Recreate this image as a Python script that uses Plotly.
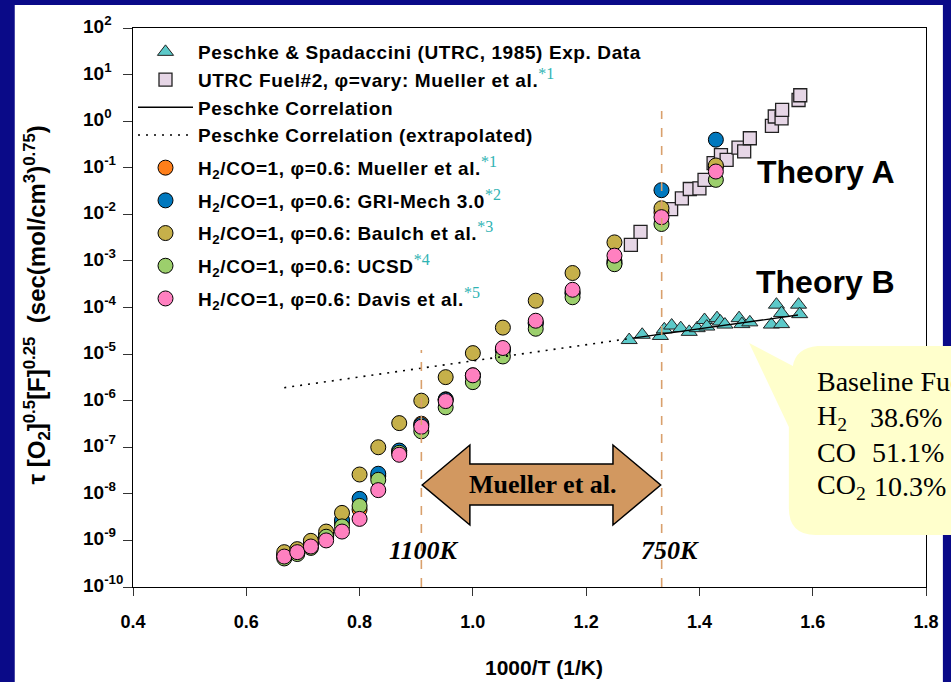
import math
import plotly.graph_objects as go

# ---------------- data ----------------
inv_T = [0.667, 0.690, 0.714, 0.741, 0.769, 0.800, 0.833, 0.870, 0.909,
         0.952, 1.000, 1.053, 1.111, 1.176, 1.250, 1.333, 1.429]
mueller = [4.8e-10, 6.2e-10, 8.3e-10, 1.3e-9, 2.4e-9, 4.6e-9, 2.4e-8, 8.3e-8, 3.2e-7,
           1.07e-6, 3.5e-6, 1.26e-5, 4.7e-5, 2.1e-4, 1.0e-3, 1.1e-2, 0.105]
gri = [4.7e-10, 6.0e-10, 7.9e-10, 1.26e-9, 2.75e-9, 7.8e-9, 2.7e-8, 8.5e-8, 3.0e-7,
       1.05e-6, 3.4e-6, 1.2e-5, 4.5e-5, 2.0e-4, 8.9e-4, 3.3e-2, 0.40]
baulch = [5.6e-10, 6.5e-10, 9.8e-10, 1.55e-9, 3.9e-9, 2.6e-8, 1.0e-7, 3.3e-7, 1.0e-6,
          3.2e-6, 1.05e-5, 3.7e-5, 1.4e-4, 5.5e-4, 2.5e-3, 1.35e-2, 0.112]
ucsd = [4.1e-10, 5.1e-10, 6.9e-10, 1.2e-9, 2.0e-9, 5.5e-9, 2.0e-8, 7.6e-8, 2.2e-7,
        7.2e-7, 2.5e-6, 8.9e-6, 3.5e-5, 1.66e-4, 8.5e-4, 6.2e-3, 5.5e-2]
davis = [4.5e-10, 5.6e-10, 7.4e-10, 1.0e-9, 1.55e-9, 2.9e-9, 1.2e-8, 6.9e-8, 2.75e-7,
         9.8e-7, 3.5e-6, 1.35e-5, 5.2e-5, 2.4e-4, 1.3e-3, 8.7e-3, 8.3e-2]

utrc_x = [1.279, 1.296, 1.350, 1.369, 1.383, 1.400, 1.409, 1.425, 1.438, 1.448,
          1.469, 1.479, 1.489, 1.528, 1.533, 1.545, 1.546, 1.575, 1.578]
utrc_y = [2.2e-3, 4.2e-3, 1.3e-2, 2.2e-2, 3.5e-2, 3.6e-2, 5.5e-2, 0.126, 0.186, 0.148,
          0.27, 0.224, 0.43, 0.79, 1.26, 1.15, 1.74, 2.85, 3.6]

exp_x = [1.276, 1.299, 1.331, 1.338, 1.351, 1.367, 1.382, 1.396, 1.409, 1.413, 1.431,
         1.437, 1.445, 1.470, 1.475, 1.489, 1.527, 1.536, 1.545, 1.545, 1.575, 1.577]
exp_y = [2.0e-5, 2.6e-5, 2.45e-5, 3.4e-5, 4.1e-5, 3.6e-5, 3.0e-5, 3.6e-5, 5.4e-5, 3.9e-5,
         5.9e-5, 5.0e-5, 4.3e-5, 5.9e-5, 4.4e-5, 4.8e-5, 4.3e-5, 1.15e-4, 7.6e-5, 4.4e-5,
         1.15e-4, 7.2e-5]

corr_x = [1.282, 1.574]
corr_y = [2.2e-5, 6.9e-5]
extrap_x = [0.667, 1.282]
extrap_y = [1.9e-6, 2.2e-5]

marker_temps_K = [1100, 750]

x_tickvals = [0.4, 0.6, 0.8, 1.0, 1.2, 1.4, 1.6, 1.8]
x_ticktext = ["0.4", "0.6", "0.8", "1.0", "1.2", "1.4", "1.6", "1.8"]
y_tickvals = [1e-10, 1e-9, 1e-8, 1e-7, 1e-6, 1e-5, 1e-4, 1e-3, 1e-2, 1e-1, 1e0, 1e1, 1e2]
y_ticktext = ["10<sup>-10</sup>", "10<sup>-9</sup>", "10<sup>-8</sup>", "10<sup>-7</sup>",
              "10<sup>-6</sup>", "10<sup>-5</sup>", "10<sup>-4</sup>", "10<sup>-3</sup>",
              "10<sup>-2</sup>", "10<sup>-1</sup>", "10<sup>0</sup>", "10<sup>1</sup>",
              "10<sup>2</sup>"]

# ---------------- layout helpers ----------------
W, H = 951, 682
L, R, T, B = 133, 931, 28, 587
ARIAL = "Liberation Sans, Arial, sans-serif"
TIMES = "Liberation Serif, Times New Roman, serif"


def px(x):
    return (x - L) / (R - L)


def py(y):
    return (B - y) / (B - T)


def path(points):
    return "M " + " L ".join(f"{px(a):.5f},{py(b):.5f}" for a, b in points) + " Z"


def sup(t):
    return (f"<sup><span style='color:#2FB3B3;font-family:Liberation Serif;font-size:16px;'>"
            f"{t}</span></sup>")


def lg(t):
    return f"<span style='letter-spacing:0.6px;'><b>{t}</b></span>"


fig = go.Figure()

fig.add_trace(go.Scatter(
    x=utrc_x, y=utrc_y, mode="markers", legendrank=2, legendgroup="g0",
    name=lg("UTRC Fuel#2, φ=vary: Mueller et al.") + sup("*1"),
    marker=dict(symbol="square", size=13, color="#E6D6E6",
                line=dict(color="#222", width=1.3))))

series = [
    (mueller, "#FF7F1A", lg("H<sub>2</sub>/CO=1, φ=0.6: Mueller et al.") + sup("*1"), 5),
    (gri, "#0078BE", lg("H<sub>2</sub>/CO=1, φ=0.6: GRI-Mech 3.0") + sup("*2"), 6),
    (baulch, "#C6B04A", lg("H<sub>2</sub>/CO=1, φ=0.6: Baulch et al.") + sup("*3"), 7),
    (ucsd, "#9CCF6C", lg("H<sub>2</sub>/CO=1, φ=0.6: UCSD") + sup("*4"), 8),
    (davis, "#FF80C0", lg("H<sub>2</sub>/CO=1, φ=0.6: Davis et al.") + sup("*5"), 9),
]
for vals, col, nm, rk in series:
    fig.add_trace(go.Scatter(
        x=inv_T, y=vals, mode="markers", name=nm, legendrank=rk, legendgroup=f"g{rk}",
        marker=dict(symbol="circle", size=15, color=col, line=dict(color="black", width=1))))

fig.add_trace(go.Scatter(
    x=exp_x, y=exp_y, mode="markers", legendrank=1, legendgroup="g0",
    name=lg("Peschke &amp; Spadaccini (UTRC, 1985) Exp. Data"),
    marker=dict(symbol="triangle-up", size=14, color="#5CC9C9",
                line=dict(color="#222", width=1))))
fig.add_trace(go.Scatter(
    x=corr_x, y=corr_y, mode="lines", legendrank=3, legendgroup="g0",
    name=lg("Peschke Correlation"),
    line=dict(color="black", width=1.3)))
fig.add_trace(go.Scatter(
    x=extrap_x, y=extrap_y, mode="lines", legendrank=4, legendgroup="g0",
    name=lg("Peschke Correlation (extrapolated)"),
    line=dict(color="black", width=1.6, dash="2px,6px")))

shapes = []
# white slide panel
shapes.append(dict(type="rect", xref="paper", yref="paper", layer="below",
                   x0=px(14), x1=px(948), y0=py(700), y1=py(5),
                   fillcolor="white", line=dict(width=0)))
# vertical temperature markers
tops = [350, 111]
for tK, top in zip(marker_temps_K, tops):
    shapes.append(dict(type="line", xref="x", yref="paper",
                       x0=1000.0 / tK, x1=1000.0 / tK, y0=0, y1=py(top),
                       line=dict(color="#D9A06C", width=1.6, dash="dash")))
# double arrow
shapes.append(dict(type="path", xref="paper", yref="paper", layer="above",
                   path=path([(424, 485), (472, 445), (472, 464), (616, 464), (616, 445),
                              (664, 485), (616, 525), (616, 505), (472, 505), (472, 525)]),
                   fillcolor="#D29860", line=dict(color="black", width=1.5)))
# callout
cp = (f"M {px(753):.5f},{py(343):.5f} L {px(797):.5f},{py(366):.5f} "
      f"Q {px(800):.5f},{py(348):.5f} {px(822):.5f},{py(346):.5f} "
      f"L {px(1000):.5f},{py(346):.5f} L {px(1000):.5f},{py(535):.5f} "
      f"L {px(820):.5f},{py(535):.5f} Q {px(793):.5f},{py(535):.5f} {px(793):.5f},{py(508):.5f} "
      f"L {px(793):.5f},{py(427):.5f} Z")
shapes.append(dict(type="path", xref="paper", yref="paper", layer="above", path=cp,
                   fillcolor="#FFFFCC", line=dict(width=0)))

ann = []


def text(x, y, t, size, family=ARIAL, xanchor="center", angle=0, color="black"):
    ann.append(dict(xref="paper", yref="paper", x=px(x), y=py(y), text=t, showarrow=False,
                    xanchor=xanchor, yanchor="middle", textangle=angle,
                    font=dict(size=size, family=family, color=color)))


# y tick labels (left aligned, as in the original)
for v, t in zip(y_tickvals, y_ticktext):
    ann.append(dict(xref="paper", yref="y", x=px(81), y=math.log10(v), text=f"<b>{t}</b>",
                    showarrow=False, xanchor="left", yanchor="middle", yshift=3,
                    font=dict(size=19, family=ARIAL, color="black")))

text(830, 172, "<b>Theory A</b>", 32)
text(830, 282, "<b>Theory B</b>", 32)
text(547, 667, "<b>1000/T (1/K)</b>", 21)
text(36, 305, "<b>τ [O<sub>2</sub>]<sup>0.5</sup>[F]<sup>0.25</sup>  "
              "(sec(mol/cm<sup>3</sup>)<sup>0.75</sup>)</b>", 24, angle=-90)
text(426, 550, "<b><i>1100K</i></b>", 26, family=TIMES)
text(673, 550, "<b><i>750K</i></b>", 26, family=TIMES)
text(546, 484, "<b>Mueller et al.</b>", 26, family=TIMES)
text(819, 382, "Baseline Fuel", 28, family=TIMES, xanchor="left")
text(819, 417, "H<sub>2</sub>", 28, family=TIMES, xanchor="left")
text(873, 417, "38.6%", 28, family=TIMES, xanchor="left")
text(819, 452, "CO", 28, family=TIMES, xanchor="left")
text(875, 452, "51.1%", 28, family=TIMES, xanchor="left")
text(819, 487, "CO<sub>2</sub>", 28, family=TIMES, xanchor="left")
text(877, 487, "10.3%", 28, family=TIMES, xanchor="left")

fig.update_layout(
    width=W, height=H,
    margin=dict(l=L, r=W - R, t=T, b=H - B, pad=0),
    paper_bgcolor="#0A0A88", plot_bgcolor="white",
    shapes=shapes, annotations=ann,
    showlegend=True,
    legend=dict(x=px(133), y=py(33), xanchor="left", yanchor="top",
                bgcolor="rgba(0,0,0,0)", borderwidth=0,
                font=dict(size=19, family=ARIAL, color="black"),
                itemwidth=55, tracegroupgap=5, traceorder="grouped", groupclick="toggleitem"),
    xaxis=dict(range=[0.4, 1.8], tickvals=x_tickvals, ticktext=x_ticktext,
               showline=True, linecolor="black", linewidth=1, mirror=True,
               ticks="outside", ticklen=8, tickcolor="#333", showgrid=False,
               zeroline=False, ticklabelstandoff=10,
               tickfont=dict(size=18, family=ARIAL, color="black", weight="bold")),
    yaxis=dict(type="log", range=[-10, 2], tickvals=y_tickvals, showticklabels=False,
               showline=True, linecolor="black", linewidth=1, mirror=True,
               ticks="outside", ticklen=9, tickcolor="#333", showgrid=False,
               zeroline=False),
)

fig.write_html("out.html", config={"displayModeBar": False},
               post_script="document.body.style.margin='0';")
